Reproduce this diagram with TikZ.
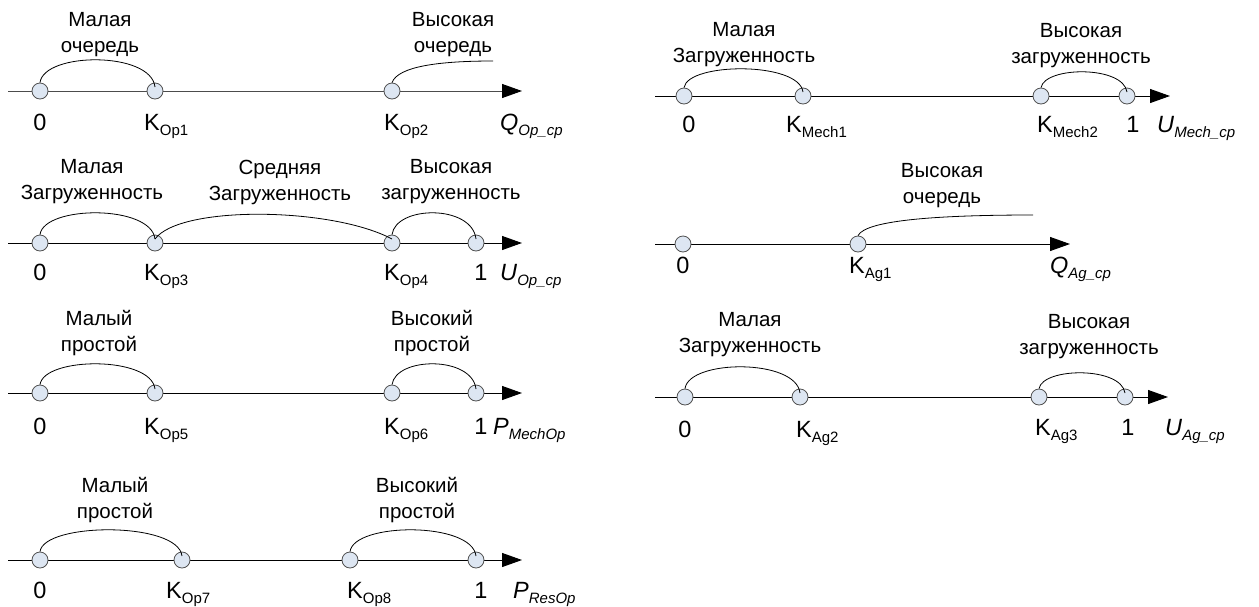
\documentclass[tikz,border=0pt]{standalone}
\usepackage{fontspec}
\setmainfont{Liberation Sans}
\usetikzlibrary{arrows.meta}
\definecolor{cfill}{RGB}{221,230,242}
\definecolor{cline}{RGB}{80,80,80}
\newcommand\lsub[1]{\raisebox{-5pt}{\fontsize{15}{15}\selectfont #1}}
\newcommand\Kl[1]{K\lsub{#1}}
\newcommand\Vl[2]{\textit{#1}\lsub{\itshape #2}}
\newcommand\harc[3]{\draw[arcl] (#1.north) .. controls +(4,{-4*(#3-8)/3}) and +(-4,{-4*(#3-4)/3}) .. ([yshift=4pt]#2.center);}
\begin{document}
\begin{tikzpicture}[x=1pt,y=-1pt,
  pt/.style={circle,draw=cline,fill=cfill,minimum size=16pt,inner sep=0pt,line width=0.8pt},
  axisl/.style={line width=1pt,-{Triangle[length=20pt,width=14pt,color=black]}},
  arcl/.style={line width=0.8pt},
  atext/.style={align=center,font=\fontsize{20.5}{26}\selectfont,inner sep=0pt},
  lab/.style={font=\fontsize{23.5}{23.5}\selectfont,inner sep=0pt,anchor=base west},
  labc/.style={font=\fontsize{23.5}{23.5}\selectfont,inner sep=0pt,anchor=base}]
\useasboundingbox (0,0) rectangle (1259,606);

% ---------- Row 1 left ----------
\coordinate (s1) at (8,91); \coordinate (t1) at (522,91);
\draw[axisl,draw=black!70] (s1) -- (t1);
\node[pt] (a0) at (40,91) {};
\node[pt] (a1) at (155,91) {};
\node[pt] (a2) at (392,91) {};
\coordinate (e1) at (493,61);
\harc{a0}{a1}{31}
\draw[arcl] (a2.north) .. controls +(6,-16) and +(-55,0) .. (e1);
\node[atext] (ta1) at (100,35) {Малая\\очередь};
\node[atext] (ta2) at (453,35) {Высокая\\очередь};
\node[labc] (la0) at (40,130) {0};
\node[lab] (la1) at (144,130) {\Kl{Op1}};
\node[lab] (la2) at (384,130) {\Kl{Op2}};
\node[lab] (la3) at (500,130) {\Vl{Q}{Op\_cp}};

% ---------- Row 2 left ----------
\coordinate (s2) at (8,243); \coordinate (t2) at (522,243);
\draw[axisl] (s2) -- (t2);
\node[pt] (b0) at (40,243) {};
\node[pt] (b1) at (155,243) {};
\node[pt] (b2) at (392,243) {};
\node[pt] (b3) at (476,243) {};
\harc{b0}{b1}{30}
\draw[arcl] ([yshift=4pt]b1.center) .. controls +(25,-34) and +(-60,-32) .. ([yshift=4pt]b2.center);
\harc{b2}{b3}{30}
\node[atext] (tb1) at (92,182) {Малая\\Загруженность};
\node[atext] (tb2) at (280,182) {Средняя\\Загруженность};
\node[atext] (tb3) at (451,182) {Высокая\\загруженность};
\node[labc] (lb0) at (40,280) {0};
\node[lab] (lb1) at (144,280) {\Kl{Op3}};
\node[lab] (lb2) at (384,280) {\Kl{Op4}};
\node[labc] (lb3) at (481,280) {1};
\node[lab] (lb4) at (500,280) {\Vl{U}{Op\_cp}};

% ---------- Row 3 left ----------
\coordinate (s3) at (8,393); \coordinate (t3) at (522,393);
\draw[axisl] (s3) -- (t3);
\node[pt] (c0) at (40,393) {};
\node[pt] (c1) at (155,393) {};
\node[pt] (c2) at (392,393) {};
\node[pt] (c3) at (476,393) {};
\harc{c0}{c1}{29}
\harc{c2}{c3}{29}
\node[atext] (tc1) at (99,333) {Малый\\простой};
\node[atext] (tc2) at (432,333) {Высокий\\простой};
\node[labc] (lc0) at (40,434) {0};
\node[lab] (lc1) at (144,434) {\Kl{Op5}};
\node[lab] (lc2) at (384,434) {\Kl{Op6}};
\node[labc] (lc3) at (481,434) {1};
\node[lab] (lc4) at (493,434) {\Vl{P}{MechOp}};

% ---------- Row 4 left ----------
\coordinate (s4) at (8,560); \coordinate (t4) at (522,560);
\draw[axisl] (s4) -- (t4);
\node[pt] (d0) at (40,560) {};
\node[pt] (d1) at (182,560) {};
\node[pt] (d2) at (350,560) {};
\node[pt] (d3) at (476,560) {};
\harc{d0}{d1}{30}
\harc{d2}{d3}{30}
\node[atext] (td1) at (115,500) {Малый\\простой};
\node[atext] (td2) at (417,500) {Высокий\\простой};
\node[labc] (ld0) at (40,598) {0};
\node[lab] (ld1) at (166,598) {\Kl{Op7}};
\node[lab] (ld2) at (347,598) {\Kl{Op8}};
\node[labc] (ld3) at (481,598) {1};
\node[lab] (ld4) at (513,598) {\Vl{P}{ResOp}};

% ---------- Row 1 right ----------
\coordinate (s5) at (655,96); \coordinate (t5) at (1170,96);
\draw[axisl] (s5) -- (t5);
\node[pt] (e0) at (684,96) {};
\node[pt] (e1p) at (803,96) {};
\node[pt] (e2) at (1041,96) {};
\node[pt] (e3) at (1127,96) {};
\harc{e0}{e1p}{27}
\harc{e2}{e3}{24}
\node[atext] (te1) at (744,45) {Малая\\Загруженность};
\node[atext] (te2) at (1081,46) {Высокая\\загруженность};
\node[labc] (le0) at (689,132) {0};
\node[lab] (le1) at (786,132) {\Kl{Mech1}};
\node[lab] (le2) at (1037,132) {\Kl{Mech2}};
\node[labc] (le3) at (1133,132) {1};
\node[lab] (le4) at (1157,132) {\Vl{U}{Mech\_cp}};

% ---------- Row 2 right ----------
\coordinate (s6) at (655,244); \coordinate (t6) at (1070,244);
\draw[axisl] (s6) -- (t6);
\node[pt] (f0) at (683,244) {};
\node[pt] (f1) at (858,244) {};
\coordinate (e2e) at (1033,215);
\draw[arcl] (f1.north) .. controls +(8,-16) and +(-90,0) .. (e2e);
\node[atext] (tf1) at (942,186) {Высокая\\очередь};
\node[labc] (lf0) at (683,273) {0};
\node[lab] (lf1) at (849,273) {\Kl{Ag1}};
\node[lab] (lf2) at (1050,273) {\Vl{Q}{Ag\_cp}};

% ---------- Row 3 right ----------
\coordinate (s7) at (655,397); \coordinate (t7) at (1168,397);
\draw[axisl] (s7) -- (t7);
\node[pt] (g0) at (685,397) {};
\node[pt] (g1) at (800,397) {};
\node[pt] (g2) at (1039,397) {};
\node[pt] (g3) at (1125,397) {};
\harc{g0}{g1}{30}
\harc{g2}{g3}{24}
\node[atext] (tg1) at (750,335) {Малая\\Загруженность};
\node[atext] (tg2) at (1089,337) {Высокая\\загруженность};
\node[labc] (lg0) at (685,437) {0};
\node[lab] (lg1) at (796,437) {\Kl{Ag2}};
\node[lab] (lg2) at (1035,435) {\Kl{Ag3}};
\node[labc] (lg3) at (1128,435) {1};
\node[lab] (lg4) at (1165,435) {\Vl{U}{Ag\_cp}};
\end{tikzpicture}
\end{document}
